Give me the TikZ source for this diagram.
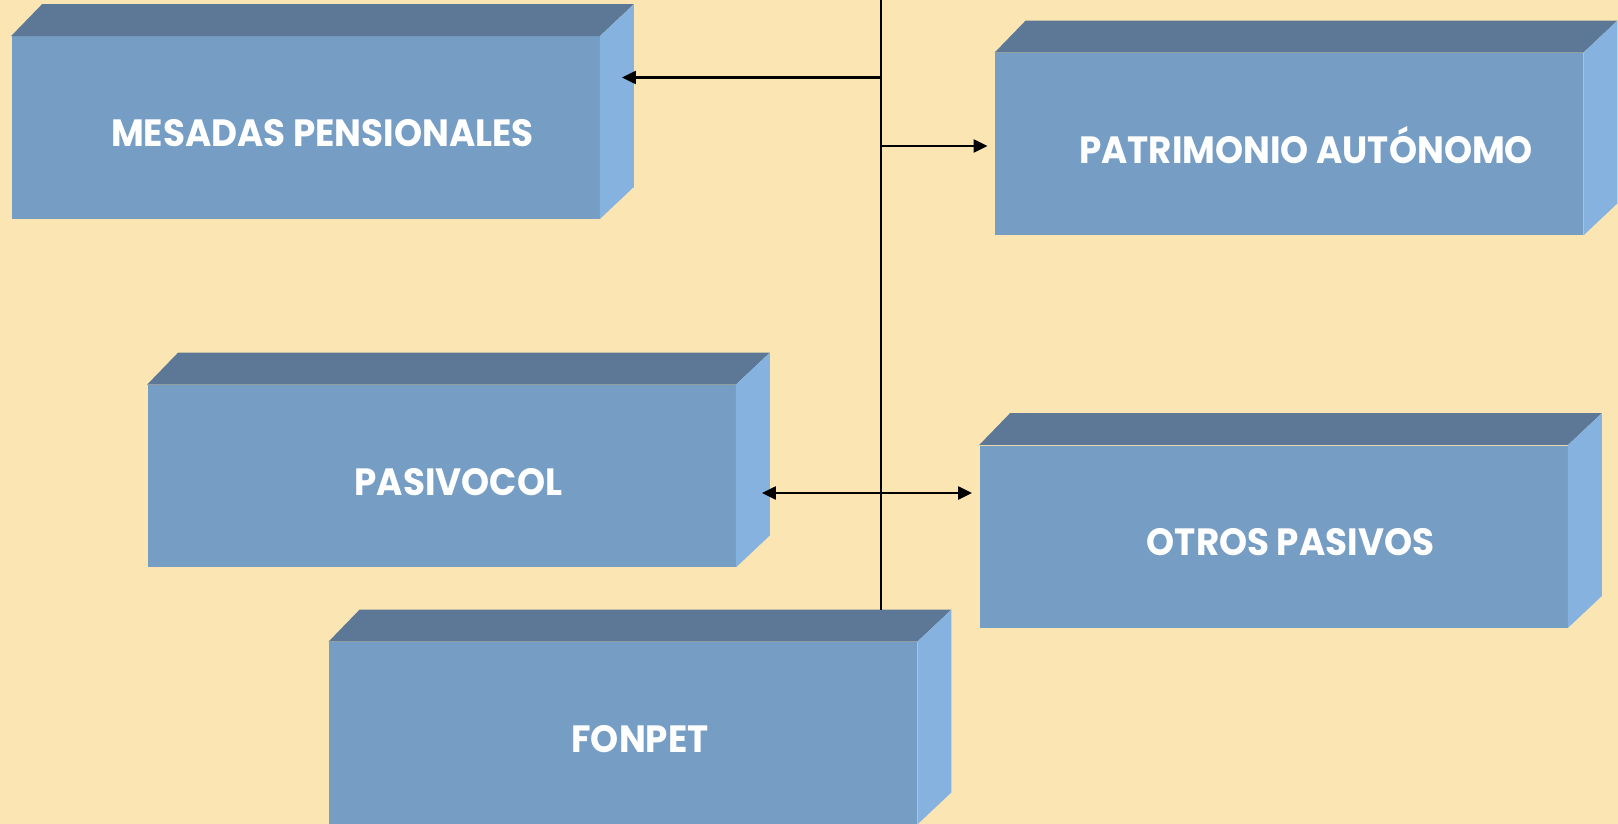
\documentclass[tikz,border=0pt]{standalone}
\usepackage{fontspec}
\usepackage{tikz}
\usetikzlibrary{arrows.meta}
\newfontfamily\cajafont{Poppins}[FakeStretch=0.94]
\definecolor{fondo}{RGB}{250,229,179}
\definecolor{cara}{RGB}{118,157,196}
\definecolor{techo}{RGB}{92,120,150}
\definecolor{lado}{RGB}{134,178,224}

\begin{document}
\begin{tikzpicture}[x=0.5pt,y=-0.5pt,
  caja/.style={fill=cara,minimum width=294pt,minimum height=91pt,inner sep=0pt},
  rotulo/.style={text=white,anchor=base,inner sep=0pt,font=\cajafont\bfseries\fontsize{19}{22}\selectfont},
  flecha/.style={-{Triangle[length=7pt,width=6.5pt]},line width=1.1pt}]
  \fill[fondo] (0,0) rectangle (1618,824);
  \useasboundingbox (0,0) rectangle (1618,824);
  \foreach \nom/\x/\y/\lab in {mesadas/305.5/127.5/MESADAS PENSIONALES,
      patrimonio/1289/144/PATRIMONIO AUTÓNOMO,
      pasivocol/441.5/476/PASIVOCOL,
      otros/1273.5/536.5/OTROS PASIVOS,
      fonpet/623/733/FONPET}
  {
    \node[caja] (\nom) at (\x,\y) {};
    \fill[techo] (\nom.north west) -- ++(15.5pt,16pt) -- ([shift={(17pt,16pt)}]\nom.north east)
      -- (\nom.north east) -- cycle;
    \fill[lado] (\nom.north east) -- ++(17pt,16pt) -- ([shift={(17pt,16pt)}]\nom.south east)
      -- (\nom.south east) -- cycle;
    \node[rotulo] (\nom-t) at ([xshift=8.5pt,yshift=-9.5pt]\nom.center) {\lab};
  }
  \coordinate (eje) at (881,0);
  \coordinate (fonpet-fondo) at ([yshift=16pt]fonpet.north);
  \draw[line width=1pt] (eje) -- (eje |- fonpet-fondo);
  \draw[flecha] ([yshift=25pt]mesadas.east -| eje) -- ([xshift=11pt,yshift=25pt]mesadas.east);
  \draw[flecha] ([yshift=-1pt]patrimonio.west -| eje) -- ([xshift=-3.5pt,yshift=-1pt]patrimonio.west);
  \draw[flecha,{Triangle[length=7pt,width=6.5pt]}-{Triangle[length=7pt,width=6.5pt]}]
    ([xshift=13pt,yshift=-8.5pt]pasivocol.east) -- ([xshift=-3.5pt,yshift=-8.5pt]pasivocol.east -| otros.west);
\end{tikzpicture}
\end{document}
